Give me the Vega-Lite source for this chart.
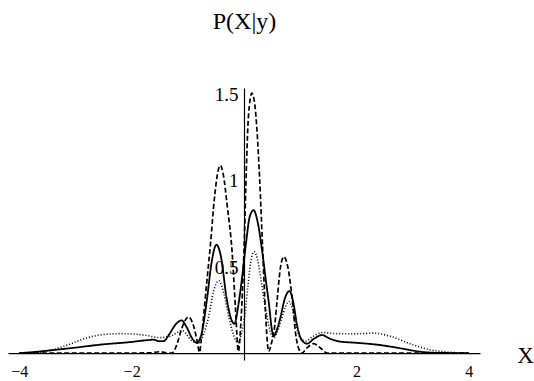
{
  "$schema": "https://vega.github.io/schema/vega-lite/v6.json",
  "width": 472,
  "height": 272,
  "autosize": {"type": "none"},
  "padding": {"left": 8, "top": 88, "right": 54, "bottom": 21},
  "background": "white",
  "config": {"view": {"stroke": null}},
  "data": {"values": [
    {"s":"dashed","x":-4.0,"y":0},{"s":"dashed","x":-2.0,"y":0},{"s":"dashed","x":-1.65,"y":0.002},{"s":"dashed","x":-1.5,"y":0.008},{"s":"dashed","x":-1.38,"y":0.002},{"s":"dashed","x":-1.28,"y":0},
    {"s":"dashed","x":-1.24,"y":0.015},{"s":"dashed","x":-1.19,"y":0.055},{"s":"dashed","x":-1.1,"y":0.15},{"s":"dashed","x":-0.99,"y":0.21},{"s":"dashed","x":-0.9,"y":0.16},{"s":"dashed","x":-0.84,"y":0.08},{"s":"dashed","x":-0.79,"y":0.005},
    {"s":"dashed","x":-0.76,"y":0.08},{"s":"dashed","x":-0.72,"y":0.21},{"s":"dashed","x":-0.66,"y":0.42},{"s":"dashed","x":-0.6,"y":0.62},{"s":"dashed","x":-0.52,"y":0.92},{"s":"dashed","x":-0.46,"y":1.06},{"s":"dashed","x":-0.42,"y":1.09},{"s":"dashed","x":-0.37,"y":1.04},{"s":"dashed","x":-0.3,"y":0.86},{"s":"dashed","x":-0.21,"y":0.58},{"s":"dashed","x":-0.15,"y":0.25},{"s":"dashed","x":-0.1,"y":0.01},
    {"s":"dashed","x":-0.06,"y":0.15},{"s":"dashed","x":-0.02,"y":0.42},{"s":"dashed","x":0.01,"y":0.7},{"s":"dashed","x":0.04,"y":1.05},{"s":"dashed","x":0.08,"y":1.38},{"s":"dashed","x":0.14,"y":1.51},{"s":"dashed","x":0.19,"y":1.45},{"s":"dashed","x":0.23,"y":1.3},{"s":"dashed","x":0.28,"y":1.0},{"s":"dashed","x":0.33,"y":0.62},{"s":"dashed","x":0.38,"y":0.25},{"s":"dashed","x":0.44,"y":0.01},
    {"s":"dashed","x":0.49,"y":0.06},{"s":"dashed","x":0.54,"y":0.14},{"s":"dashed","x":0.59,"y":0.31},{"s":"dashed","x":0.65,"y":0.5},{"s":"dashed","x":0.71,"y":0.56},{"s":"dashed","x":0.78,"y":0.5},{"s":"dashed","x":0.86,"y":0.31},{"s":"dashed","x":0.92,"y":0.11},{"s":"dashed","x":0.98,"y":0.02},{"s":"dashed","x":1.03,"y":0},
    {"s":"dashed","x":1.12,"y":0.03},{"s":"dashed","x":1.24,"y":0.055},{"s":"dashed","x":1.36,"y":0.03},{"s":"dashed","x":1.48,"y":0},{"s":"dashed","x":2.0,"y":0},{"s":"dashed","x":4.0,"y":0},

    {"s":"solid","x":-4.0,"y":0},{"s":"solid","x":-3.75,"y":0.006},{"s":"solid","x":-3.45,"y":0.016},{"s":"solid","x":-3.0,"y":0.032},{"s":"solid","x":-2.56,"y":0.049},{"s":"solid","x":-2.0,"y":0.065},{"s":"solid","x":-1.7,"y":0.076},{"s":"solid","x":-1.61,"y":0.078},{"s":"solid","x":-1.52,"y":0.07},{"s":"solid","x":-1.43,"y":0.07},
    {"s":"solid","x":-1.33,"y":0.11},{"s":"solid","x":-1.22,"y":0.165},{"s":"solid","x":-1.11,"y":0.19},{"s":"solid","x":-1.02,"y":0.15},{"s":"solid","x":-0.93,"y":0.09},{"s":"solid","x":-0.84,"y":0.06},
    {"s":"solid","x":-0.75,"y":0.12},{"s":"solid","x":-0.66,"y":0.31},{"s":"solid","x":-0.58,"y":0.52},{"s":"solid","x":-0.49,"y":0.63},{"s":"solid","x":-0.41,"y":0.56},{"s":"solid","x":-0.31,"y":0.32},{"s":"solid","x":-0.22,"y":0.19},{"s":"solid","x":-0.17,"y":0.17},
    {"s":"solid","x":-0.1,"y":0.28},{"s":"solid","x":-0.03,"y":0.45},{"s":"solid","x":0.04,"y":0.65},{"s":"solid","x":0.1,"y":0.79},{"s":"solid","x":0.17,"y":0.83},{"s":"solid","x":0.25,"y":0.75},{"s":"solid","x":0.32,"y":0.6},{"s":"solid","x":0.39,"y":0.42},{"s":"solid","x":0.45,"y":0.27},{"s":"solid","x":0.49,"y":0.15},{"s":"solid","x":0.53,"y":0.1},
    {"s":"solid","x":0.59,"y":0.14},{"s":"solid","x":0.65,"y":0.21},{"s":"solid","x":0.73,"y":0.32},{"s":"solid","x":0.81,"y":0.36},{"s":"solid","x":0.88,"y":0.29},{"s":"solid","x":0.94,"y":0.17},{"s":"solid","x":1.02,"y":0.08},{"s":"solid","x":1.12,"y":0.055},
    {"s":"solid","x":1.25,"y":0.085},{"s":"solid","x":1.39,"y":0.105},{"s":"solid","x":1.52,"y":0.085},{"s":"solid","x":1.69,"y":0.068},{"s":"solid","x":2.0,"y":0.06},{"s":"solid","x":2.37,"y":0.049},{"s":"solid","x":2.8,"y":0.027},{"s":"solid","x":3.14,"y":0.008},{"s":"solid","x":3.5,"y":0.001},{"s":"solid","x":4.0,"y":0},

    {"s":"dotted","x":-4.0,"y":0},{"s":"dotted","x":-3.6,"y":0.006},{"s":"dotted","x":-3.16,"y":0.045},{"s":"dotted","x":-2.8,"y":0.088},{"s":"dotted","x":-2.5,"y":0.108},{"s":"dotted","x":-2.2,"y":0.113},{"s":"dotted","x":-1.8,"y":0.106},{"s":"dotted","x":-1.49,"y":0.09},
    {"s":"dotted","x":-1.3,"y":0.1},{"s":"dotted","x":-1.1,"y":0.13},{"s":"dotted","x":-0.92,"y":0.07},{"s":"dotted","x":-0.8,"y":0.06},{"s":"dotted","x":-0.72,"y":0.11},{"s":"dotted","x":-0.63,"y":0.21},{"s":"dotted","x":-0.54,"y":0.36},{"s":"dotted","x":-0.45,"y":0.42},{"s":"dotted","x":-0.36,"y":0.35},{"s":"dotted","x":-0.27,"y":0.21},{"s":"dotted","x":-0.18,"y":0.1},{"s":"dotted","x":-0.11,"y":0.06},
    {"s":"dotted","x":-0.04,"y":0.12},{"s":"dotted","x":0.01,"y":0.21},{"s":"dotted","x":0.07,"y":0.39},{"s":"dotted","x":0.12,"y":0.53},{"s":"dotted","x":0.18,"y":0.59},{"s":"dotted","x":0.25,"y":0.53},{"s":"dotted","x":0.32,"y":0.39},{"s":"dotted","x":0.41,"y":0.21},{"s":"dotted","x":0.47,"y":0.12},{"s":"dotted","x":0.53,"y":0.09},
    {"s":"dotted","x":0.6,"y":0.13},{"s":"dotted","x":0.67,"y":0.2},{"s":"dotted","x":0.74,"y":0.27},{"s":"dotted","x":0.8,"y":0.3},{"s":"dotted","x":0.86,"y":0.26},{"s":"dotted","x":0.92,"y":0.17},{"s":"dotted","x":1.0,"y":0.09},{"s":"dotted","x":1.1,"y":0.07},{"s":"dotted","x":1.22,"y":0.095},{"s":"dotted","x":1.39,"y":0.12},
    {"s":"dotted","x":1.6,"y":0.114},{"s":"dotted","x":2.0,"y":0.112},{"s":"dotted","x":2.31,"y":0.116},{"s":"dotted","x":2.6,"y":0.098},{"s":"dotted","x":2.96,"y":0.054},{"s":"dotted","x":3.3,"y":0.02},{"s":"dotted","x":3.62,"y":0.006},{"s":"dotted","x":4.0,"y":0}
  ]},
  "mark": {"type": "line", "interpolate": "monotone", "color": "black", "clip": true},
  "encoding": {
    "x": {
      "field": "x", "type": "quantitative",
      "scale": {"domain": [-4.2, 4.2], "nice": false, "zero": false},
      "axis": {
        "orient": "bottom", "offset": -6.9, "values": [-4, -2, 2, 4], "format": "~g",
        "grid": false, "ticks": false, "domain": true, "domainColor": "black", "domainWidth": 1.2,
        "labelFont": "Liberation Serif", "labelFontSize": 16, "labelColor": "black", "labelPadding": 10,
        "title": "X", "titleFont": "Liberation Serif", "titleFontSize": 23, "titleFontWeight": "normal", "titleColor": "black",
        "titleX": 517, "titleY": 9, "titleAlign": "center", "titleBaseline": "alphabetic", "titleAnchor": null
      }
    },
    "y": {
      "field": "y", "type": "quantitative",
      "scale": {"domain": [-0.04, 1.54], "nice": false, "zero": false},
      "axis": {
        "orient": "left", "offset": -236, "values": [0.5, 1, 1.5], "format": "~g",
        "grid": false, "ticks": false, "domain": true, "domainColor": "black", "domainWidth": 1.2,
        "labelFont": "Liberation Serif", "labelFontSize": 19, "labelColor": "black", "labelPadding": 6,
        "title": "P(X|y)", "titleFont": "Liberation Serif", "titleFontSize": 24, "titleFontWeight": "normal", "titleColor": "black",
        "titleAngle": 0, "titleX": 0, "titleY": -60, "titleAlign": "center", "titleBaseline": "alphabetic", "titleAnchor": null
      }
    },
    "detail": {"field": "s"},
    "strokeDash": {"field": "s", "type": "nominal", "scale": {"domain": ["solid", "dashed", "dotted"], "range": [[1, 0], [5, 2.5], [1, 2]]}, "legend": null},
    "strokeWidth": {"field": "s", "type": "nominal", "scale": {"domain": ["solid", "dashed", "dotted"], "range": [1.8, 1.6, 1.1]}, "legend": null}
  }
}
